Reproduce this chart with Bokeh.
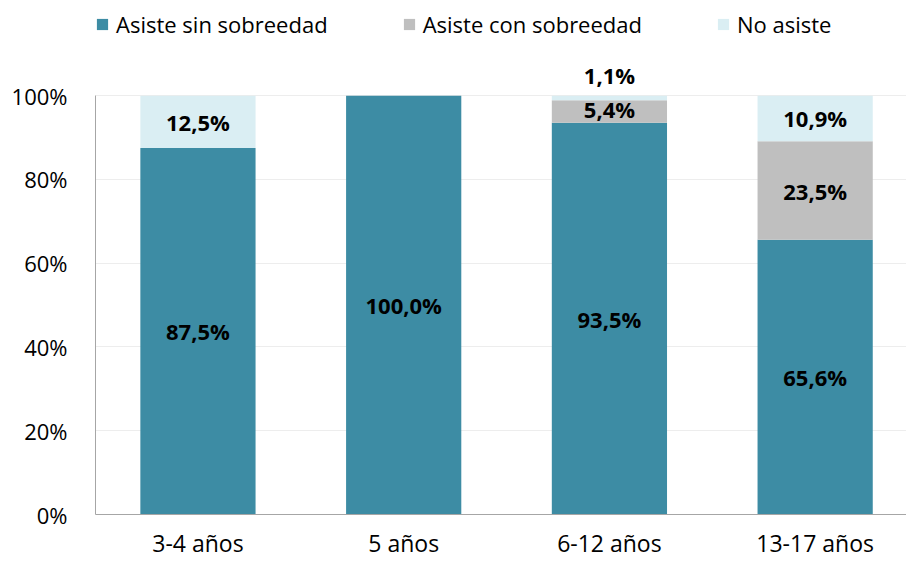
from bokeh.plotting import figure
from bokeh.models import ColumnDataSource, Range1d, FixedTicker, Legend, LegendItem, NumeralTickFormatter
from bokeh.core.properties import value
from bokeh.embed import file_html
from bokeh.resources import INLINE

categories = ["3-4 años", "5 años", "6-12 años", "13-17 años"]
series_names = ["Asiste sin sobreedad", "Asiste con sobreedad", "No asiste"]
sin_sobreedad = [87.5, 100.0, 93.5, 65.6]
con_sobreedad = [0.0, 0.0, 5.4, 23.5]
no_asiste = [12.5, 0.0, 1.1, 10.9]
y_ticks = [0, 20, 40, 60, 80, 100]
colors = ["#3D8CA4", "#BFBFBF", "#DAEEF3"]

FONT = "Open Sans"
x = list(range(len(categories)))
keys = ["sin", "con", "no"]
source = ColumnDataSource(dict(x=x, sin=sin_sobreedad, con=con_sobreedad, no=no_asiste))

p = figure(width=906, height=561, output_backend="svg", toolbar_location=None,
           x_range=Range1d(-0.498, 3.444), y_range=Range1d(0, 122),
           min_border_left=95, min_border_right=0, min_border_top=3, min_border_bottom=46)
p.outline_line_color = None
p.background_fill_color = "white"
p.border_fill_color = "white"

renderers = p.vbar_stack(keys, x="x", width=0.56, source=source, color=colors,
                         line_color=None)

# data labels
lx, ly, lt, loff, lbase = [], [], [], [], []
vals = [sin_sobreedad, con_sobreedad, no_asiste]
for i in range(len(categories)):
    bottom = 0.0
    for s in vals:
        v = s[i]
        if v > 0:
            lx.append(i)
            lt.append(f"{v:.1f}%".replace(".", ","))
            if v < 3:
                ly.append(bottom + v)
                loff.append(-6)
                lbase.append("bottom")
            else:
                ly.append(bottom + v / 2)
                loff.append(-3 if v < 8 else 0)
                lbase.append("middle")
        bottom += v
lsrc = ColumnDataSource(dict(x=lx, y=ly, t=lt, off=loff, base=lbase))
p.text(x="x", y="y", text="t", source=lsrc, text_align="center", text_baseline="base",
       y_offset="off", text_font=value(FONT), text_font_style="bold",
       text_font_size="22px", text_color="black")

# axes
p.xaxis.ticker = FixedTicker(ticks=x)
p.xaxis.major_label_overrides = {i: c for i, c in enumerate(categories)}
p.xaxis.major_tick_line_color = None
p.xaxis.minor_tick_line_color = None
p.xaxis.axis_line_color = "#A6A6A6"
p.xaxis.major_label_standoff = 6
p.xaxis.major_label_text_font = FONT
p.xaxis.major_label_text_font_size = "23px"
p.xaxis.major_label_text_color = "black"

p.yaxis.ticker = FixedTicker(ticks=y_ticks)
p.yaxis.formatter = NumeralTickFormatter(format="0")
p.yaxis.major_label_overrides = {t: f"{t}%" for t in y_ticks}
p.yaxis.bounds = (0, 100)
p.yaxis.major_tick_line_color = None
p.yaxis.minor_tick_line_color = None
p.yaxis.axis_line_color = "#A6A6A6"
p.yaxis.major_label_standoff = 22
p.yaxis.major_label_text_font = FONT
p.yaxis.major_label_text_font_size = "22px"
p.yaxis.major_label_text_color = "black"

p.xgrid.grid_line_color = None
p.ygrid.ticker = FixedTicker(ticks=y_ticks)
p.ygrid.grid_line_color = "#EDEDED"
p.ygrid.grid_line_width = 1

legend = Legend(items=[LegendItem(label=n, renderers=[r]) for n, r in zip(series_names, renderers)],
                orientation="horizontal", location=(0, 475), padding=0, margin=0,
                spacing=74, glyph_width=14, glyph_height=14, label_standoff=7,
                label_text_font=FONT, label_text_font_size="22px", label_text_color="black",
                border_line_color=None, background_fill_alpha=0)
p.add_layout(legend)

open("out.html", "w").write(file_html(p, INLINE))
